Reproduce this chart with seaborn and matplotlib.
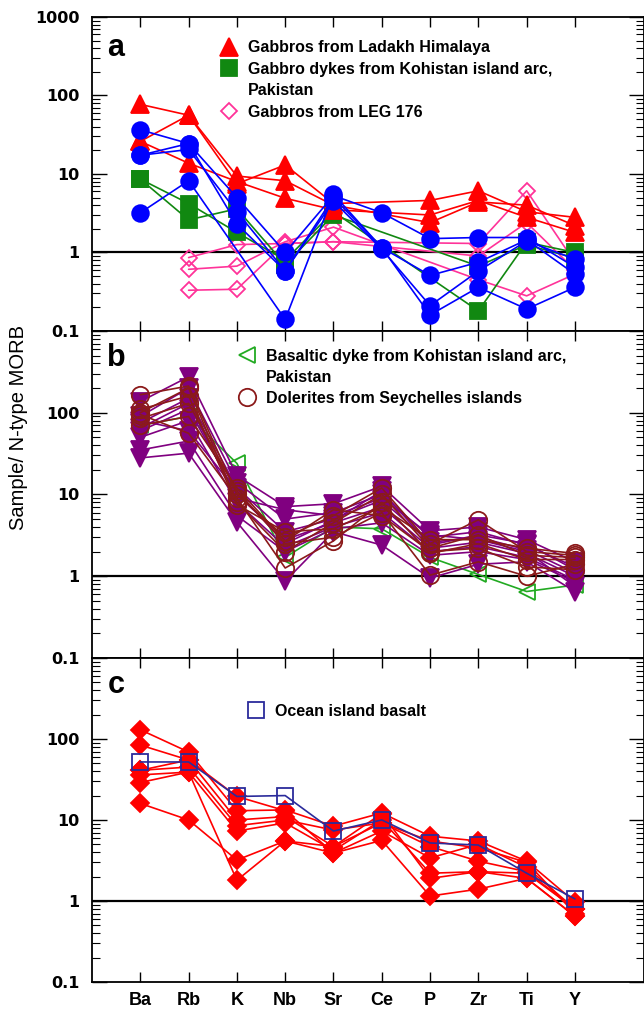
import numpy as np
import pandas as pd
import matplotlib
matplotlib.use("Agg")
import matplotlib.pyplot as plt
import seaborn as sns
from matplotlib.lines import Line2D
from matplotlib.ticker import FixedLocator, FixedFormatter, LogLocator, NullFormatter
from matplotlib.font_manager import FontProperties

nan = np.nan

# ---------------- data ----------------
elements = ["Ba", "Rb", "K", "Nb", "Sr", "Ce", "P", "Zr", "Ti", "Y"]
ytick_values = [0.1, 1, 10, 100, 1000]
ytick_labels = ["0.1", "1", "10", "100", "1000"]

# panel a
ladakh = [
    [77, 56, 7.5, 13.0, 4.2, nan, 4.6, 6.1, 3.3, 2.8],
    [26, 56, 9.4, 8.2, 4.0, nan, 2.4, 4.4, 4.0, 2.2],
    [26, 13.7, 8.0, 4.9, 3.5, nan, 3.0, 4.6, 2.8, 1.8],
]
kohistan_gabbro = [
    [8.6, 4.2, 1.8, 0.80, 3.3, nan, nan, 0.18, 1.35, 1.0],
    [8.6, 2.6, 3.6, 0.70, 3.0, nan, nan, 0.67, 1.25, 0.85],
]
leg176 = [
    [nan, 0.86, 1.26, 1.3, 1.37, nan, nan, 1.3, 6.1, 0.75],
    [nan, 0.61, 0.67, 1.37, 2.1, nan, nan, 0.45, 0.28, 0.53],
    [nan, 0.33, 0.34, 1.3, 1.37, nan, nan, 0.9, 2.4, 0.6],
]
unlabeled_a = [
    [36.5, 24.4, 5.0, 1.0, 5.3, 3.2, 1.5, 1.55, 1.55, 0.65],
    [17.3, 20.5, 3.3, 0.58, 5.0, 1.15, 0.51, 0.75, 1.45, 0.53],
    [3.2, 8.2, nan, 0.14, 5.5, 1.15, 0.16, 0.36, 0.19, 0.36],
    [17.3, 24.4, 2.3, 0.58, 4.5, 1.1, 0.21, 0.58, 1.4, 0.82],
]

# panel b
basaltic_dyke = [
    [70, 90, 24, 1.7, 4.0, 3.8, 1.7, 1.05, 0.65, 0.78],
]
unlabeled_b = [
    [137, 275, 17, 7.1, 7.7, 12.6, 3.6, 4.0, 2.8, 1.5],
    [90, 200, 14, 5.0, 6.0, 10, 3.0, 3.5, 2.4, 1.3],
    [75, 150, 12, 3.5, 5.0, 8.5, 2.6, 3.0, 2.1, 1.1],
    [60, 110, 10, 2.8, 4.5, 7.0, 2.2, 2.6, 1.9, 1.0],
    [50, 80, 8.0, 2.3, 4.0, 6.0, 2.0, 2.3, 1.7, 0.9],
    [35, 45, 5.5, 2.0, 3.8, 4.5, 1.8, 2.0, 1.6, 0.85],
    [28, 32, 4.6, 0.87, 3.5, 2.4, 0.95, 1.4, 1.5, 0.65],
    [65, 130, 9.0, 6.5, 5.5, 9.0, 3.2, 2.8, 2.0, 0.75],
    [80, 60, 11, 2.5, 4.8, 11, 2.4, 3.2, 2.5, 1.2],
]
seychelles = [
    [166, 212, 10, 3.0, 5.5, 12, 2.5, 4.9, 2.0, 1.8],
    [100, 200, 8.0, 2.0, 4.5, 10, 2.2, 3.2, 1.8, 1.7],
    [95, 56, 9.0, 1.26, 2.7, 8.0, 1.9, 2.5, 1.6, 1.6],
    [85, 130, 11, 2.5, 3.0, 6.0, 1.03, 1.5, 1.0, 1.4],
    [110, 160, 7.5, 3.5, 3.8, 7.0, 2.8, 2.8, 2.2, 1.9],
    [70, 90, 12, 2.7, 6.5, 5.5, 2.0, 2.2, 1.3, 1.2],
]

# panel c
samples_c = [
    [130, 69, 13, 13.3, 8.4, 12.2, 6.3, 5.5, 3.1, 0.97],
    [84, 55, 10, 11, 4.7, 9.2, 4.7, 3.1, 2.3, 0.8],
    [41, 55, 19.5, 13, 3.9, 7.3, 3.4, 5.0, 2.6, 0.8],
    [29, 39, 7.3, 9.2, 4.2, 10, 2.2, 2.3, 1.9, 0.65],
    [16, 10, 3.2, 5.5, 3.9, 5.6, 1.15, 1.4, 1.9, 0.65],
    [36, 39, 1.8, 5.5, 4.7, 12, 1.9, 2.3, 2.2, 0.8],
    [41, 45, 8.5, 10, 7.5, 9.2, 5.5, 4.5, 3.0, 0.7],
]
oib = [
    [52, 52, 19.5, 20, 7.3, 10, 5.2, 4.9, 2.2, 1.06],
]

# ---------------- styling ----------------
RED = "#FF0000"
BLUE = "#0000FF"
GREEN = "#118811"
PINK = "#FF3399"
PURPLE = "#800080"
BROWN = "#8B1A1A"
LGREEN = "#22AA22"
NAVY = "#2B2B9B"

sns.set_style("ticks")
plt.rcParams["font.family"] = ["DejaVu Sans"]
plt.rcParams["text.color"] = "black"
plt.rcParams["axes.edgecolor"] = "black"
plt.rcParams["xtick.color"] = "black"
plt.rcParams["ytick.color"] = "black"

legend_font = FontProperties(family="Liberation Sans", weight="bold", size=11.5)


def to_long(series):
    rows = []
    for u, vals in enumerate(series):
        for i, v in enumerate(vals):
            if not np.isnan(v):
                rows.append({"unit": u, "pos": i, "element": elements[i], "value": v})
    return pd.DataFrame(rows)


def draw(ax, series, color, marker, ms, filled=True, lw=1.2, z=2):
    df = to_long(series)
    kws = dict(marker=marker, markersize=ms, markeredgewidth=1.3,
               markeredgecolor=color,
               markerfacecolor=color if filled else "none")
    sns.lineplot(data=df, x="pos", y="value", units="unit", estimator=None,
                 sort=False, color=color, linewidth=lw, legend=False, ax=ax,
                 zorder=z, **kws)


def handle(color, marker, ms, filled=True):
    return Line2D([], [], linestyle="none", marker=marker, markersize=ms,
                  markeredgewidth=1.3, markeredgecolor=color,
                  markerfacecolor=color if filled else "none")


blank = Line2D([], [], linestyle="none")

fig = plt.figure(figsize=(6.44, 10.09), dpi=100)
gs = fig.add_gridspec(3, 1, height_ratios=[314, 327, 324], hspace=0,
                      left=0.1429, right=1.0, top=0.9832, bottom=0.0268)
axes = [fig.add_subplot(gs[i]) for i in range(3)]

# panel a
ax = axes[0]
draw(ax, leg176, PINK, "D", 8, filled=False, z=2)
draw(ax, kohistan_gabbro, GREEN, "s", 11, z=3)
draw(ax, ladakh, RED, "^", 13, z=4)
draw(ax, unlabeled_a, BLUE, "o", 12, z=5)
ax.legend([handle(RED, "^", 13), handle(GREEN, "s", 11.5), blank,
           handle(PINK, "D", 8, filled=False)],
          ["Gabbros from Ladakh Himalaya",
           "Gabbro dykes from Kohistan island arc,", "Pakistan",
           "Gabbros from LEG 176"],
          loc="upper left", bbox_to_anchor=(0.231, 0.926), frameon=False,
          borderaxespad=0, borderpad=0, handlelength=1.2, handletextpad=0.6,
          labelspacing=0.41, prop=legend_font)

# panel b
ax = axes[1]
draw(ax, basaltic_dyke, LGREEN, "<", 12, filled=False, z=2)
draw(ax, unlabeled_b, PURPLE, "v", 13, z=3)
draw(ax, seychelles, BROWN, "o", 12.5, filled=False, z=4)
ax.legend([handle(LGREEN, "<", 12, filled=False), blank,
           handle(BROWN, "o", 12.5, filled=False)],
          ["Basaltic dyke from Kohistan island arc,", "Pakistan",
           "Dolerites from Seychelles islands"],
          loc="upper left", bbox_to_anchor=(0.263, 0.945), frameon=False,
          borderaxespad=0, borderpad=0, handlelength=1.2, handletextpad=0.6,
          labelspacing=0.38, prop=legend_font)

# panel c
ax = axes[2]
draw(ax, samples_c, RED, "D", 9.5, z=3)
draw(ax, oib, NAVY, "s", 11.5, filled=False, z=4)
ax.legend([handle(NAVY, "s", 11.5, filled=False)], ["Ocean island basalt"],
          loc="upper left", bbox_to_anchor=(0.28, 0.858), frameon=False,
          borderaxespad=0, borderpad=0, handlelength=1.2, handletextpad=0.6,
          labelspacing=0.22, prop=legend_font)

letters = ["a", "b", "c"]
letter_y = [0.90, 0.917, 0.917]
for i, ax in enumerate(axes):
    ax.set_yscale("log")
    ax.set_ylim(0.1, 1000)
    ax.set_xlim(-1, 10.43)
    ax.axhline(1, color="black", lw=1.6, zorder=1)
    ax.xaxis.set_major_locator(FixedLocator(range(len(elements))))
    ax.tick_params(axis="x", which="both", direction="in", top=True,
                   bottom=True, length=7, width=1)
    ax.yaxis.set_major_locator(FixedLocator(ytick_values))
    labs = list(ytick_labels)
    if i > 0:
        labs[-1] = ""
    ax.yaxis.set_major_formatter(FixedFormatter(labs))
    ax.yaxis.set_minor_locator(LogLocator(base=10, subs=range(2, 10)))
    ax.yaxis.set_minor_formatter(NullFormatter())
    ax.tick_params(axis="y", which="major", direction="in", left=True,
                   right=True, length=11, width=1, pad=9)
    ax.tick_params(axis="y", which="minor", direction="in", left=True,
                   right=True, length=6, width=0.8)
    for lab in ax.get_yticklabels():
        lab.set_fontfamily("DejaVu Sans")
        lab.set_fontweight("bold")
        lab.set_fontsize(11.5)
    for sp in ax.spines.values():
        sp.set_visible(True)
        sp.set_linewidth(1.3)
        sp.set_color("black")
    ax.set_xlabel("")
    ax.set_ylabel("")
    ax.text(0.028, letter_y[i], letters[i], transform=ax.transAxes,
            fontfamily="Liberation Sans", fontweight="bold", fontsize=22,
            ha="left", va="center")
    if i < 2:
        ax.set_xticklabels([])
    else:
        ax.set_xticklabels(elements, fontfamily="Liberation Sans",
                           fontweight="bold", fontsize=13)
        ax.tick_params(axis="x", pad=7)

fig.text(0.028, 0.576, "Sample/ N-type MORB", rotation=90, ha="center",
         va="center", fontfamily="Liberation Sans", fontsize=14.5)

fig.savefig("out.png", dpi=100)
